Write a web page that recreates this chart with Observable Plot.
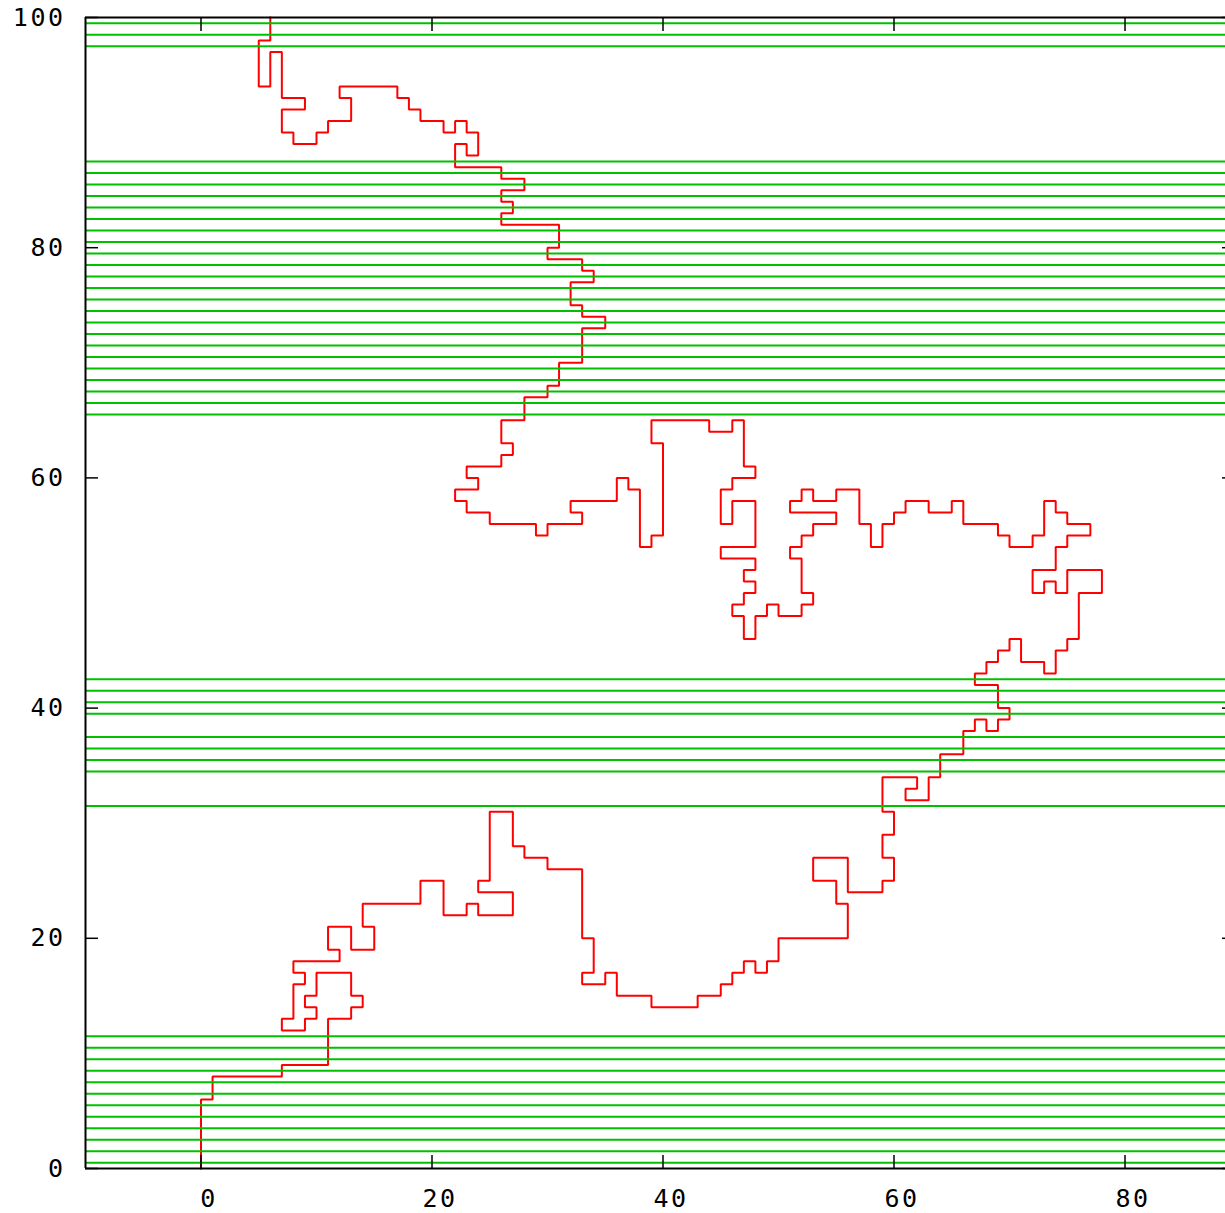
<!DOCTYPE html>
<html><head><meta charset="utf-8">
<script src="https://cdn.jsdelivr.net/npm/d3@7"></script>
<script src="https://cdn.jsdelivr.net/npm/@observablehq/plot@0.6"></script>
<style>html,body{margin:0;padding:0;background:#fff;overflow:hidden}
svg [aria-label$="axis tick label"] text{letter-spacing:2.5px}</style>
</head><body><div id="chart"></div>
<script>
// Lattice walk vertices (in order)
const walkX = [0,0,1,1,7,7,11,11,13,13,14,14,13,13,10,10,9,9,10,10,9,9,7,7,8,8,9,9,8,8,12,12,11,11,13,13,15,15,14,14,19,19,21,21,23,23,24,24,27,27,24,24,25,25,27,27,28,28,30,30,33,33,34,34,33,33,35,35,36,36,39,39,43,43,45,45,46,46,47,47,48,48,49,49,50,50,56,56,55,55,53,53,56,56,59,59,60,60,59,59,60,60,59,59,62,62,61,61,63,63,64,64,66,66,67,67,68,68,69,69,70,70,69,69,67,67,68,68,69,69,70,70,71,71,73,73,74,74,75,75,76,76,78,78,75,75,74,74,73,73,72,72,74,74,75,75,77,77,75,75,74,74,73,73,72,72,70,70,69,69,66,66,65,65,63,63,61,61,60,60,59,59,58,58,57,57,55,55,53,53,52,52,51,51,55,55,53,53,52,52,51,51,52,52,53,53,52,52,50,50,49,49,48,48,47,47,46,46,47,47,48,48,47,47,48,48,45,45,48,48,46,46,45,45,46,46,48,48,47,47,46,46,44,44,39,39,40,40,39,39,38,38,37,37,36,36,32,32,33,33,30,30,29,29,25,25,23,23,22,22,24,24,23,23,26,26,27,27,26,26,28,28,30,30,31,31,33,33,35,35,33,33,32,32,34,34,33,33,30,30,31,31,26,26,27,27,26,26,28,28,26,26,22,22,23,23,24,24,23,23,22,22,21,21,19,19,18,18,17,17,12,12,13,13,11,11,10,10,8,8,7,7,9,9,7,7,6,6,5,5,6,6];
const walkY = [0,6,6,8,8,9,9,13,13,14,14,15,15,17,17,15,15,14,14,13,13,12,12,13,13,16,16,17,17,18,18,19,19,21,21,19,19,21,21,23,23,25,25,22,22,23,23,22,22,24,24,25,25,31,31,28,28,27,27,26,26,20,20,17,17,16,16,17,17,15,15,14,14,15,15,16,16,17,17,18,18,17,17,18,18,20,20,23,23,25,25,27,27,24,24,25,25,27,27,29,29,31,31,34,34,33,33,32,32,34,34,36,36,38,38,39,39,38,38,39,39,40,40,42,42,43,43,44,44,45,45,46,46,44,44,43,43,45,45,46,46,50,50,52,52,50,50,51,51,50,50,52,52,54,54,55,55,56,56,57,57,58,58,55,55,54,54,55,55,56,56,58,58,57,57,58,58,57,57,56,56,54,54,56,56,59,59,58,58,59,59,58,58,57,57,56,56,55,55,54,54,53,53,50,50,49,49,48,48,49,49,48,48,46,46,48,48,49,49,50,50,51,51,52,52,53,53,54,54,58,58,56,56,59,59,60,60,61,61,65,65,64,64,65,65,63,63,55,55,54,54,59,59,60,60,58,58,57,57,56,56,55,55,56,56,57,57,58,58,59,59,60,60,61,61,62,62,63,63,65,65,67,67,68,68,70,70,73,73,74,74,75,75,77,77,78,78,79,79,80,80,82,82,83,83,84,84,85,85,86,86,87,87,89,89,88,88,90,90,91,91,90,90,91,91,92,92,93,93,94,94,93,93,91,91,90,90,89,89,90,90,92,92,93,93,97,97,94,94,98,98,100];

// Horizontal green lines (y levels)
const greenLevels = [0.5,1.5,2.5,3.5,4.5,5.5,6.5,7.5,8.5,9.5,10.5,11.5,
  31.5,34.5,35.5,36.5,37.5,39.5,40.5,41.5,42.5,
  65.5,66.5,67.5,68.5,69.5,70.5,71.5,72.5,73.5,74.5,75.5,76.5,77.5,78.5,79.5,80.5,81.5,82.5,83.5,84.5,85.5,86.5,87.5,
  97.5,98.5,99.5];

const xTicks = [0,20,40,60,80];
const yTicks = [0,20,40,60,80,100];

const walk = walkX.map((x, i) => ({x, y: walkY[i]}));
const font = "'DejaVu Sans Mono', 'Liberation Mono', monospace";

const chart = Plot.plot({
  width: 1225, height: 1213,
  marginLeft: 85, marginRight: 0, marginTop: 17, marginBottom: 45,
  x: {domain: [-10, 88.7], label: null},
  y: {domain: [0, 100], label: null},
  style: {fontFamily: font, fontSize: "25px", background: "#fff", color: "#000"},
  marks: [
    Plot.line(walk, {x: "x", y: "y", stroke: "#ff0000", strokeWidth: 2, strokeLinejoin: "miter", strokeLinecap: "square"}),
    Plot.ruleY(greenLevels, {stroke: "#00c000", strokeWidth: 2}),
    Plot.ruleY([0, 100], {stroke: "#000", strokeWidth: 2}),
    Plot.ruleX([-10], {stroke: "#000", strokeWidth: 2}),
    Plot.axisX(xTicks, {anchor: "bottom", tickSize: -13, tickFormat: () => "", strokeWidth: 1.5}),
    Plot.axisX(xTicks, {anchor: "top", tickSize: -13, tickFormat: () => "", strokeWidth: 1.5}),
    Plot.axisY(yTicks, {anchor: "left", tickSize: -13, tickFormat: () => "", strokeWidth: 1.5}),
    Plot.axisY(yTicks, {anchor: "right", tickSize: -4, tickFormat: () => "", strokeWidth: 1.5}),
    Plot.axisX(xTicks, {anchor: "bottom", tickSize: 0, tickPadding: 21, dx: 8, fontSize: 25}),
    Plot.axisY(yTicks, {anchor: "left", tickSize: 0, tickPadding: 20, fontSize: 25})
  ]
});
document.getElementById("chart").appendChild(chart);
</script>
</body></html>
